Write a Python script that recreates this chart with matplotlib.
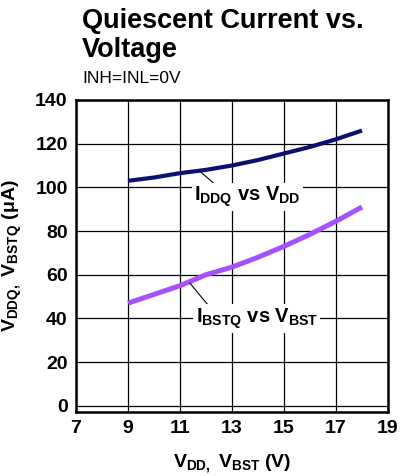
#!/usr/bin/env python3
# -*- coding: utf-8 -*-
"""
Quiescent current vs. supply voltage.
"""

import matplotlib as mpl
from matplotlib import pyplot as plt

mpl.use('Agg')

# %% Data
volts = [9, 10, 11, 12, 13, 14, 15, 16, 17, 18]
iddq = [103, 104.5, 106.5, 108, 110, 112.5, 115.5, 118.5, 122, 126]
ibstq = [47, 51, 55, 60, 63.5, 68, 73, 78.5, 84.5, 91]
xticks = [7, 9, 11, 13, 15, 17, 19]
yticks = [0, 20, 40, 60, 80, 100, 120, 140]

# %% Style
plt.rcParams['font.family'] = ['Liberation Sans', 'DejaVu Sans']
plt.rcParams['mathtext.fontset'] = 'custom'
plt.rcParams['mathtext.rm'] = 'Liberation Sans:bold'
plt.rcParams['mathtext.it'] = 'Liberation Sans:bold'
plt.rcParams['mathtext.bf'] = 'Liberation Sans:bold'

fig = plt.figure(figsize=(4.01, 4.76), dpi=100)
ax = fig.add_axes([0.1895, 0.135, 0.778, 0.655])

ax.plot(volts, iddq, color='#0b1170', linewidth=3.0, solid_capstyle='butt', zorder=3)
ax.plot(volts, ibstq, color='#a552fc', linewidth=3.6, solid_capstyle='butt', zorder=3)

ax.set_xlim(7, 19)
ax.set_ylim(-2.7, 140)
ax.set_xticks(xticks)
ax.set_yticks(yticks)
ax.tick_params(length=0, labelsize=14, pad=6)
for lab in ax.get_xticklabels() + ax.get_yticklabels():
    lab.set_fontweight('bold')
ax.grid(True, color='black', linewidth=0.9, zorder=1)
for sp in ax.spines.values():
    sp.set_linewidth(1.8)

# Inline labels with leader lines
bbox = dict(boxstyle='square,pad=0.1', facecolor='white', edgecolor='none')
ax.annotate(r'$I_{DDQ}$ vs $V_{DD}$', xy=(11.77, 107.3), xytext=(13.6, 95.5),
            ha='center', va='center', fontsize=14.5, fontweight='bold',
            bbox=bbox, zorder=4,
            arrowprops=dict(arrowstyle='-', color='black', linewidth=0.8,
                            shrinkA=0, shrinkB=0, relpos=(0.2, 1.0)))
ax.annotate(r'$I_{BSTQ}$ vs $V_{BST}$', xy=(11.38, 56.2), xytext=(13.95, 40),
            ha='center', va='center', fontsize=14.5, fontweight='bold',
            bbox=bbox, zorder=4,
            arrowprops=dict(arrowstyle='-', color='black', linewidth=0.8,
                            shrinkA=0, shrinkB=0, relpos=(0.11, 1.0)))

ax.set_xlabel(r'$V_{DD,}\ V_{BST}$ (V)', fontsize=14, fontweight='bold', labelpad=11)
ax.set_ylabel(r'$V_{DDQ,}\ V_{BSTQ}$ ($\mu$A)', fontsize=14, fontweight='bold', labelpad=8)

# Titles
fig.text(82 / 401, 1 - 28 / 476, 'Quiescent Current vs.', ha='left', va='baseline',
         fontsize=19.5, fontweight='bold')
fig.text(82 / 401, 1 - 57 / 476, 'Voltage', ha='left', va='baseline',
         fontsize=19.5, fontweight='bold')
fig.text(82 / 401, 1 - 83 / 476, 'INH=INL=0V', ha='left', va='baseline', fontsize=12.5)

plt.savefig('out.png', dpi=100)
plt.close()
